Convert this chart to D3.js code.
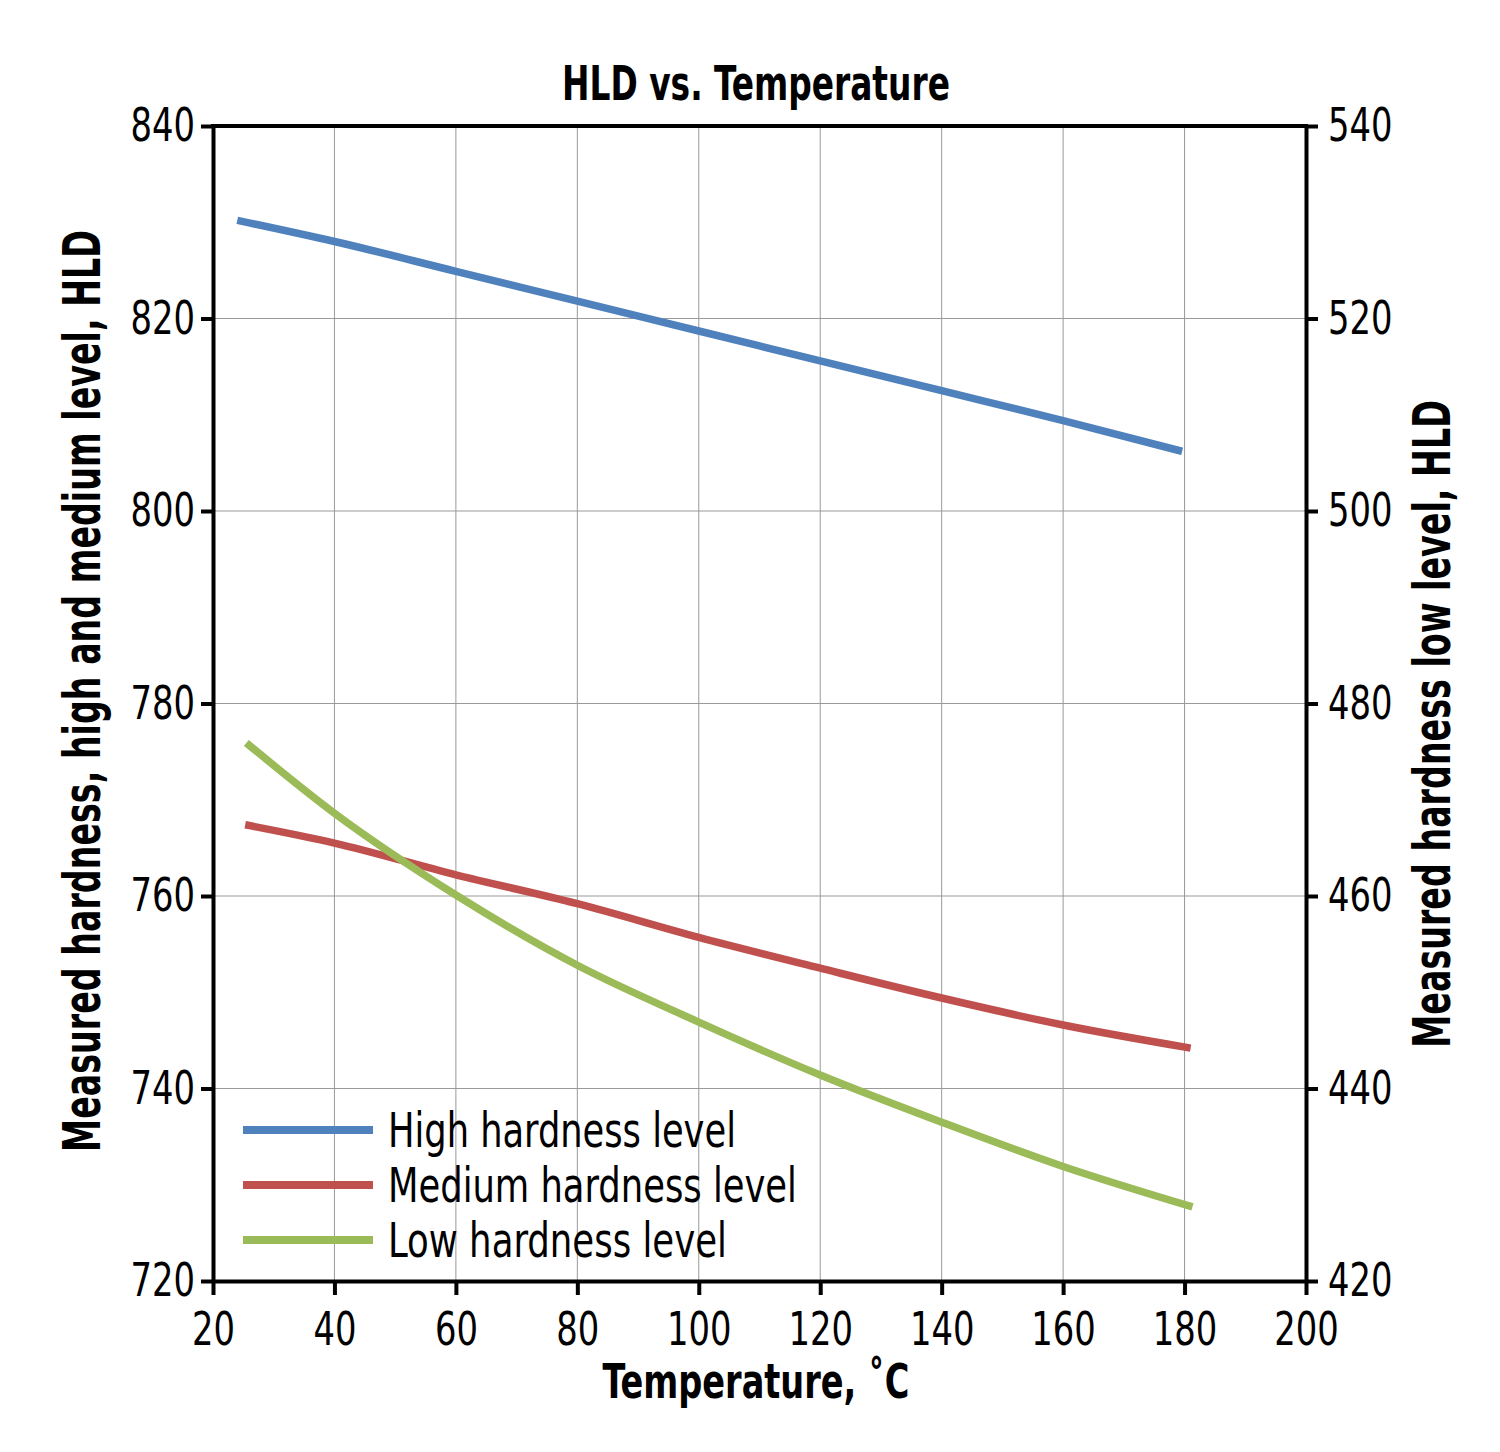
<!DOCTYPE html>
<html>
<head>
<meta charset="utf-8">
<script src="https://cdn.jsdelivr.net/npm/d3@7"></script>
<style>
  body { margin: 0; background: #fff; }
  svg text { font-family: "Liberation Sans Narrow", "DejaVu Sans Condensed", "Roboto", sans-serif; }
</style>
</head>
<body>
<div id="chart"></div>
<script>
// values
const highTemps = [24, 40, 60, 80, 100, 120, 140, 160, 179.6];
const highValues = [830.2, 828.0, 824.9, 821.8, 818.7, 815.6, 812.5, 809.4, 806.2];

const mediumTemps = [25.3, 40, 60, 80, 100, 120, 140, 160, 181];
const mediumValues = [767.4, 765.5, 762.2, 759.2, 755.7, 752.5, 749.4, 746.6, 744.2];

// low level is plotted against the right axis
const lowTemps = [25.5, 40, 60, 80, 100, 120, 140, 160, 181.3];
const lowValues = [475.9, 468.6, 460.1, 452.8, 446.9, 441.4, 436.5, 431.9, 427.7];

const xTicks = [20, 40, 60, 80, 100, 120, 140, 160, 180, 200];
const leftTicks = [720, 740, 760, 780, 800, 820, 840];
const rightTicks = [420, 440, 460, 480, 500, 520, 540];

const seriesNames = ["High hardness level", "Medium hardness level", "Low hardness level"];
const seriesColors = ["#4f81bd", "#c0504d", "#9bbb59"];

const margin = {top: 126, right: 194, bottom: 171, left: 213};
const width = 1500 - margin.left - margin.right;
const height = 1452 - margin.top - margin.bottom;

const svg = d3.select("#chart").append("svg")
    .attr("width", 1500)
    .attr("height", 1452);

const g = svg.append("g")
    .attr("transform", `translate(${margin.left},${margin.top})`);

const x = d3.scaleLinear().domain([20, 200]).range([0, width]);
const yLeft = d3.scaleLinear().domain([720, 840]).range([height, 0]);
const yRight = d3.scaleLinear().domain([420, 540]).range([height, 0]);

// grid
g.append("g").attr("class", "grid")
    .selectAll("line.vgrid")
    .data(xTicks.slice(1, -1))
    .enter().append("line")
    .attr("x1", d => x(d)).attr("x2", d => x(d))
    .attr("y1", 0).attr("y2", height)
    .attr("stroke", "#999").attr("stroke-width", 1);

g.append("g").attr("class", "grid")
    .selectAll("line.hgrid")
    .data(leftTicks.slice(1, -1))
    .enter().append("line")
    .attr("x1", 0).attr("x2", width)
    .attr("y1", d => yLeft(d)).attr("y2", d => yLeft(d))
    .attr("stroke", "#999").attr("stroke-width", 1);

// series lines
const series = [
    {name: seriesNames[0], color: seriesColors[0], pts: highTemps.map((t, i) => [x(t), yLeft(highValues[i])])},
    {name: seriesNames[1], color: seriesColors[1], pts: mediumTemps.map((t, i) => [x(t), yLeft(mediumValues[i])])},
    {name: seriesNames[2], color: seriesColors[2], pts: lowTemps.map((t, i) => [x(t), yRight(lowValues[i])])}
];

const line = d3.line().curve(d3.curveMonotoneX);

g.selectAll(".series")
    .data(series)
    .enter().append("path")
    .attr("class", "series")
    .attr("d", d => line(d.pts))
    .attr("fill", "none")
    .attr("stroke", d => d.color)
    .attr("stroke-width", 7.5);

// axes
const tickFont = 46;

const xAxis = g.append("g")
    .attr("transform", `translate(0,${height})`)
    .call(d3.axisBottom(x).tickValues(xTicks).tickSize(14).tickSizeOuter(0).tickPadding(17));

const leftAxis = g.append("g")
    .call(d3.axisLeft(yLeft).tickValues(leftTicks).tickSize(12).tickSizeOuter(0).tickPadding(6));

const rightAxis = g.append("g")
    .attr("transform", `translate(${width},0)`)
    .call(d3.axisRight(yRight).tickValues(rightTicks).tickSize(12).tickSizeOuter(0).tickPadding(10));

[xAxis, leftAxis, rightAxis].forEach(a => {
    a.select(".domain").attr("stroke", "#000").attr("stroke-width", 4);
    a.selectAll(".tick line").attr("stroke", "#000").attr("stroke-width", 4);
    a.selectAll(".tick text").attr("font-size", tickFont).attr("fill", "#000")
        .style("font-family", '"Liberation Sans Narrow", "DejaVu Sans Condensed", sans-serif')
        .attr("textLength", function() { return this.textContent.length * 21.5; })
        .attr("lengthAdjust", "spacingAndGlyphs");
});

// top border
g.append("line")
    .attr("x1", -2).attr("x2", width + 2)
    .attr("y1", 0).attr("y2", 0)
    .attr("stroke", "#000").attr("stroke-width", 4);

// squeeze a label to a target width with a transform, keeps glyph boxes honest
function fitLabel(sel, tx, ty, angle, target) {
    const natural = sel.node().getComputedTextLength();
    const sx = target / natural;
    sel.attr("transform", `translate(${tx},${ty}) rotate(${angle}) scale(${sx},1)`);
}

// titles
const title = svg.append("text")
    .attr("text-anchor", "middle")
    .attr("font-size", 48).attr("font-weight", "bold")
    .text("HLD vs. Temperature");
fitLabel(title, 756, 100, 0, 388);

const xLabel = svg.append("text")
    .attr("text-anchor", "middle")
    .attr("font-size", 48).attr("font-weight", "bold")
    .text("Temperature, \u02DAC");
fitLabel(xLabel, 756, 1398, 0, 307);

const yLabelLeft = svg.append("text")
    .attr("text-anchor", "middle")
    .attr("font-size", 52).attr("font-weight", "bold")
    .text("Measured hardness, high and medium level, HLD");
fitLabel(yLabelLeft, 100, 691, -90, 922);

const yLabelRight = svg.append("text")
    .attr("text-anchor", "middle")
    .attr("font-size", 52).attr("font-weight", "bold")
    .text("Measured hardness low level, HLD");
fitLabel(yLabelRight, 1450, 724, -90, 648);

// legend
const legendTextLen = [348, 409, 339];
const legend = svg.append("g").attr("class", "legend");
const legendRows = legend.selectAll("g")
    .data(series)
    .enter().append("g")
    .attr("transform", (d, i) => `translate(243,${1130 + i * 55})`);

legendRows.append("line")
    .attr("x1", 0).attr("x2", 130)
    .attr("y1", 0).attr("y2", 0)
    .attr("stroke", d => d.color)
    .attr("stroke-width", 8);

legendRows.append("text")
    .attr("font-size", 48)
    .text(d => d.name)
    .each(function(d, i) {
        fitLabel(d3.select(this), 145, 17, 0, legendTextLen[i]);
    });
</script>
</body>
</html>
